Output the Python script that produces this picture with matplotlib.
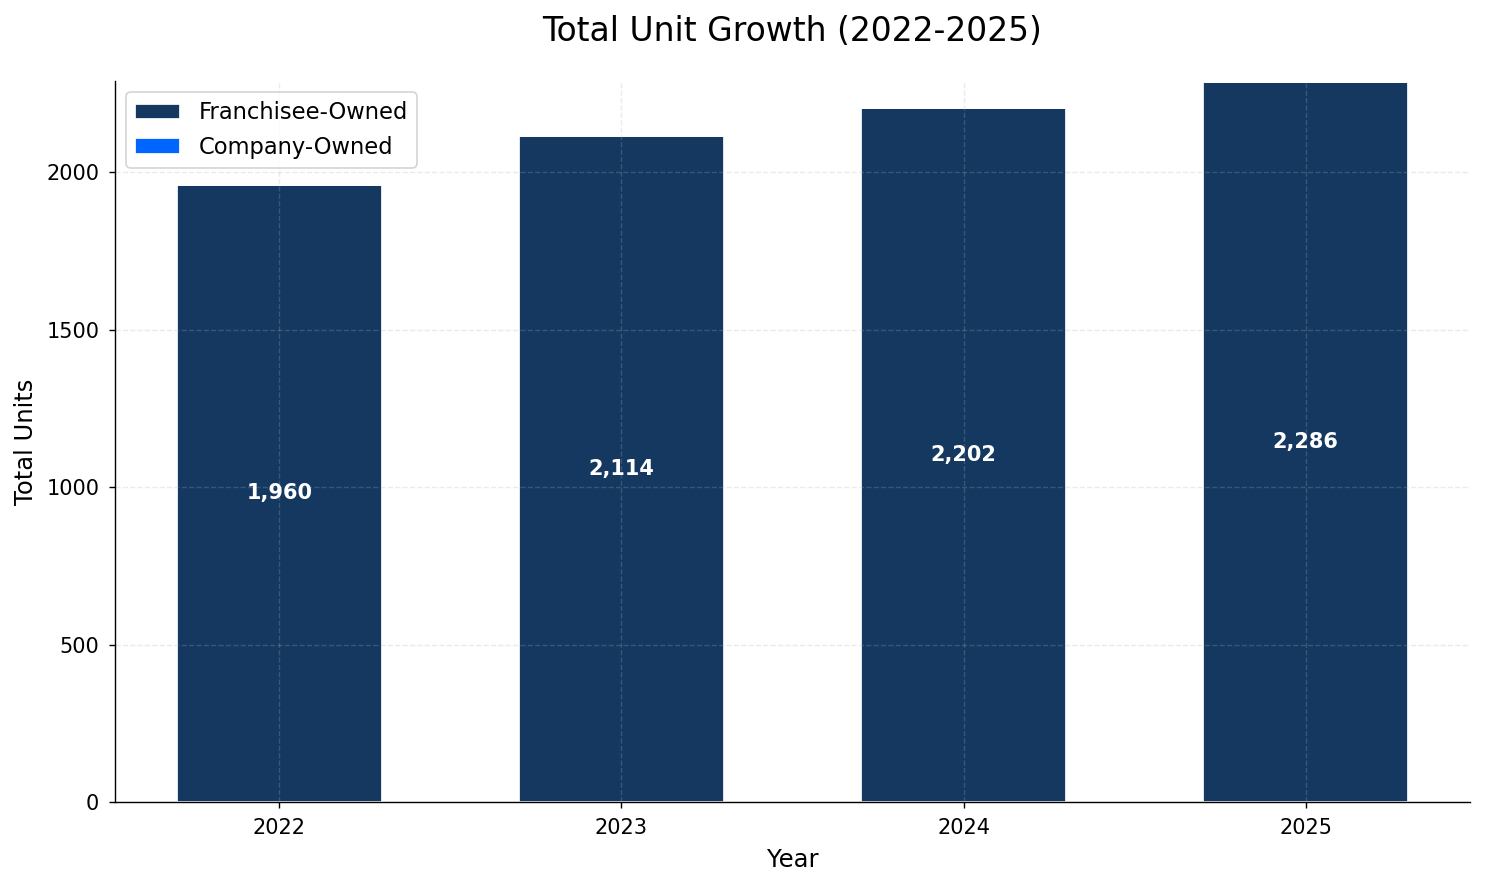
import numpy as np
import matplotlib
matplotlib.use("Agg")
import matplotlib.pyplot as plt

years = ["2022", "2023", "2024", "2025"]
franchisee = [1960, 2114, 2202, 2286]
company = [0, 0, 0, 0]

navy = '#143860'
bright = '#0066ff'

fig, ax = plt.subplots(figsize=(11.88, 7.072), dpi=125)
fig.subplots_adjust(left=115/1485, right=1470/1485, top=1-81/884, bottom=1-802/884)

x = np.arange(len(years))
width = 0.6
ax.bar(x, franchisee, width, color=navy, edgecolor='white', linewidth=1, label='Franchisee-Owned')
ax.bar(x, company, width, bottom=franchisee, color=bright, edgecolor='white', linewidth=1,
       label='Company-Owned')

totals = [f + c for f, c in zip(franchisee, company)]
for xi, t in zip(x, totals):
    ax.text(xi, t / 2, f"{t:,}", ha='center', va='center', color='white',
            fontsize=12, fontweight='bold')

ax.set_xticks(x)
ax.set_xticklabels(years)
ax.set_ylim(0, max(totals) + 3)
ax.set_yticks([0, 500, 1000, 1500, 2000])
ax.tick_params(labelsize=12, pad=5.5)

ax.set_title("Total Unit Growth (2022-2025)", fontsize=19, pad=23)
ax.set_xlabel("Year", fontsize=14, labelpad=6)
ax.set_ylabel("Total Units", fontsize=14, labelpad=5)

ax.grid(True, linestyle='--', alpha=0.25)
ax.spines['top'].set_visible(False)
ax.spines['right'].set_visible(False)

ax.legend(loc='upper left', fontsize=13)

fig.savefig("out.png", dpi=125)
